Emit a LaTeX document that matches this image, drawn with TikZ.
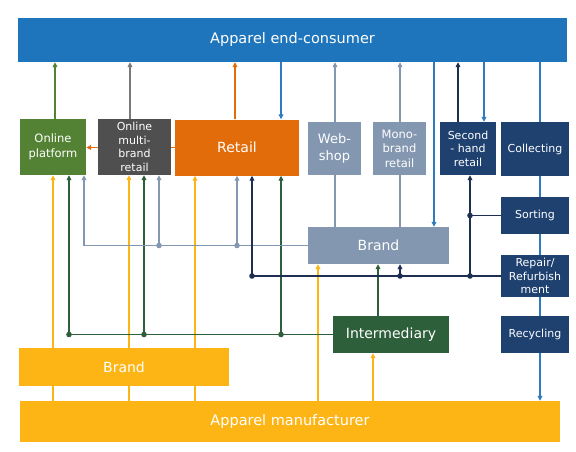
\documentclass[tikz,border=0pt]{standalone}
\usepackage{fontspec}
\setmainfont{DejaVu Sans}
\usepackage{xcolor}
\usetikzlibrary{arrows.meta}

\definecolor{consblue}{HTML}{1E75BC}
\definecolor{lineblue}{HTML}{2E7BBF}
\definecolor{platgreen}{HTML}{548235}
\definecolor{multigray}{HTML}{4F4F4F}
\definecolor{linegray}{HTML}{7A7A7A}
\definecolor{retorange}{HTML}{E36C0A}
\definecolor{grayblue}{HTML}{8497B0}
\definecolor{navybox}{HTML}{1F4170}
\definecolor{navyline}{HTML}{1F2F52}
\definecolor{intergreen}{HTML}{2D5F3A}
\definecolor{mfyellow}{HTML}{FDB515}

\newcommand{\labelbig}{\fontsize{14.5}{17}\selectfont}
\newcommand{\labelmid}{\fontsize{14}{17}\selectfont}
\newcommand{\labelsmall}{\fontsize{11.5}{14.5}\selectfont}
\newcommand{\labeltight}{\fontsize{11}{13.5}\selectfont}

\begin{document}
\begin{tikzpicture}[x=1pt,y=-1pt]
  \tikzset{box/.style = {shape=rectangle,inner sep=0pt,text=white,align=center,font=\labelsmall}}
  \tikzset{link/.style = {line width=1.7pt}}
  \tikzset{%
  flowtip/.tip={Triangle[length=5pt,width=4.8pt]},
  }
  \tikzset{flow/.style = {link,-flowtip}}

  \useasboundingbox (0,0) rectangle (576,452);

	\node[box,fill=consblue,minimum width=549pt,minimum height=44pt,font=\labelbig] (cons) at (292.5,40) {Apparel end-consumer};

	\node[box,fill=platgreen,minimum width=66pt,minimum height=56pt] (plat) at (53,147) {Online\\platform};
	\node[box,fill=multigray,minimum width=73pt,minimum height=56pt,font=\labeltight] (multi) at (134.5,147) {Online\\multi-\\brand\\retail};
	\node[box,fill=retorange,minimum width=124pt,minimum height=56pt,font=\labelmid] (retail) at (237,147.5) {Retail};
	\node[box,fill=grayblue,minimum width=53pt,minimum height=53pt,font=\fontsize{13}{17}\selectfont] (web) at (334.5,148.5) {Web-\\shop};
	\node[box,fill=grayblue,minimum width=53pt,minimum height=53pt] (mono) at (399.5,148.5) {Mono-\\brand\\retail};
	\node[box,fill=navybox,minimum width=56pt,minimum height=53pt,font=\labeltight] (second) at (468,148.5) {Second\\- hand\\retail};
	\node[box,fill=navybox,minimum width=68pt,minimum height=54pt,font=\labeltight] (collect) at (535,149) {Collecting};
	\node[box,fill=navybox,minimum width=68pt,minimum height=37pt,font=\labeltight] (sort) at (535,215.5) {Sorting};
	\node[box,fill=navybox,minimum width=68pt,minimum height=42pt,font=\labeltight] (repair) at (535,276) {Repair/\\Refurbish\\ment};
	\node[box,fill=navybox,minimum width=68pt,minimum height=37pt,font=\labeltight] (recyc) at (535,334.5) {Recycling};

	\node[box,fill=grayblue,minimum width=141pt,minimum height=37pt,font=\labelmid] (brandB) at (378.5,245.5) {Brand};
	\node[box,fill=intergreen,minimum width=116pt,minimum height=37pt,font=\labelmid] (inter) at (391,334.5) {Intermediary};
	\node[box,fill=mfyellow,minimum width=210pt,minimum height=38pt,font=\labelmid] (brandY) at (124,367) {Brand};
	\node[box,fill=mfyellow,minimum width=540pt,minimum height=41pt,font=\labelbig] (manu) at (290,421.5) {Apparel manufacturer};

    % up to the end-consumer
    \foreach \x/\from/\col in {55/plat/platgreen, 130/multi/linegray, 235/retail/retorange, 335/web/grayblue, 400/mono/grayblue, 458/second/navyline}
    \draw[flow,\col] (\from.north -| \x,0) -- (cons.south -| \x,0);

    % down from the end-consumer
    \foreach \x/\to in {281/retail, 434/brandB, 484/second}
    \draw[flow,lineblue] (cons.south -| \x,0) -- (\to.north -| \x,0);

    \foreach \from/\to in {cons/collect, collect/sort, sort/repair, repair/recyc}
    \draw[link,lineblue] (\from.south -| 540,0) -- (\to.north -| 540,0);
    \draw[flow,lineblue] (recyc.south -| 540,0) -- (manu.north -| 540,0);

    \foreach \x/\to in {335/web, 400/mono}
    \draw[link,grayblue] (brandB.north -| \x,0) -- (\to.south -| \x,0);

    \draw[link,retorange] (retail.west) -- (multi.east |- retail.west);
    \draw[flow,retorange] (multi.west |- retail.west) -- (plat.east |- retail.west);

    % manufacturer
    \foreach \x/\to in {53/plat, 129/multi, 195/retail} {
    \draw[link,mfyellow] (manu.north -| \x,0) -- (brandY.south -| \x,0);
    \draw[flow,mfyellow] (brandY.north -| \x,0) -- (\to.south -| \x,0);
    }
    \foreach \x/\to in {318/brandB, 373/inter}
    \draw[flow,mfyellow] (manu.north -| \x,0) -- (\to.south -| \x,0);

    % intermediary
    \draw[flow,intergreen] (inter.west) -| (plat.south -| 69,0);
    \foreach \x/\to in {144/multi, 281/retail}
    \draw[flow,intergreen] (inter.west -| \x,0) -- (\to.south -| \x,0);
    \foreach \x in {69,144,281}
    \fill[intergreen] (inter.west -| \x,0) circle (2.8pt);
    \draw[flow,intergreen] (inter.north -| 378,0) -- (brandB.south -| 378,0);

    % brand
    \draw[flow,grayblue] (brandB.west) -| (plat.south -| 84,0);
    \foreach \x/\to in {159/multi, 237/retail} {
    \draw[flow,grayblue] (brandB.west -| \x,0) -- (\to.south -| \x,0);
    \fill[grayblue] (brandB.west -| \x,0) circle (2.8pt);
    }

    % repair and sorting
    \draw[flow,navyline] (repair.west) -| (retail.south -| 252,0);
    \foreach \x/\to in {400/brandB, 470/second}
    \draw[flow,navyline] (repair.west -| \x,0) -- (\to.south -| \x,0);
    \draw[link,navyline] (sort.west) -- (sort.west -| 470,0);
    \foreach \x in {252,400,470}
    \fill[navyline] (repair.west -| \x,0) circle (2.8pt);
    \fill[navyline] (sort.west -| 470,0) circle (2.8pt);

\end{tikzpicture}
\end{document}
